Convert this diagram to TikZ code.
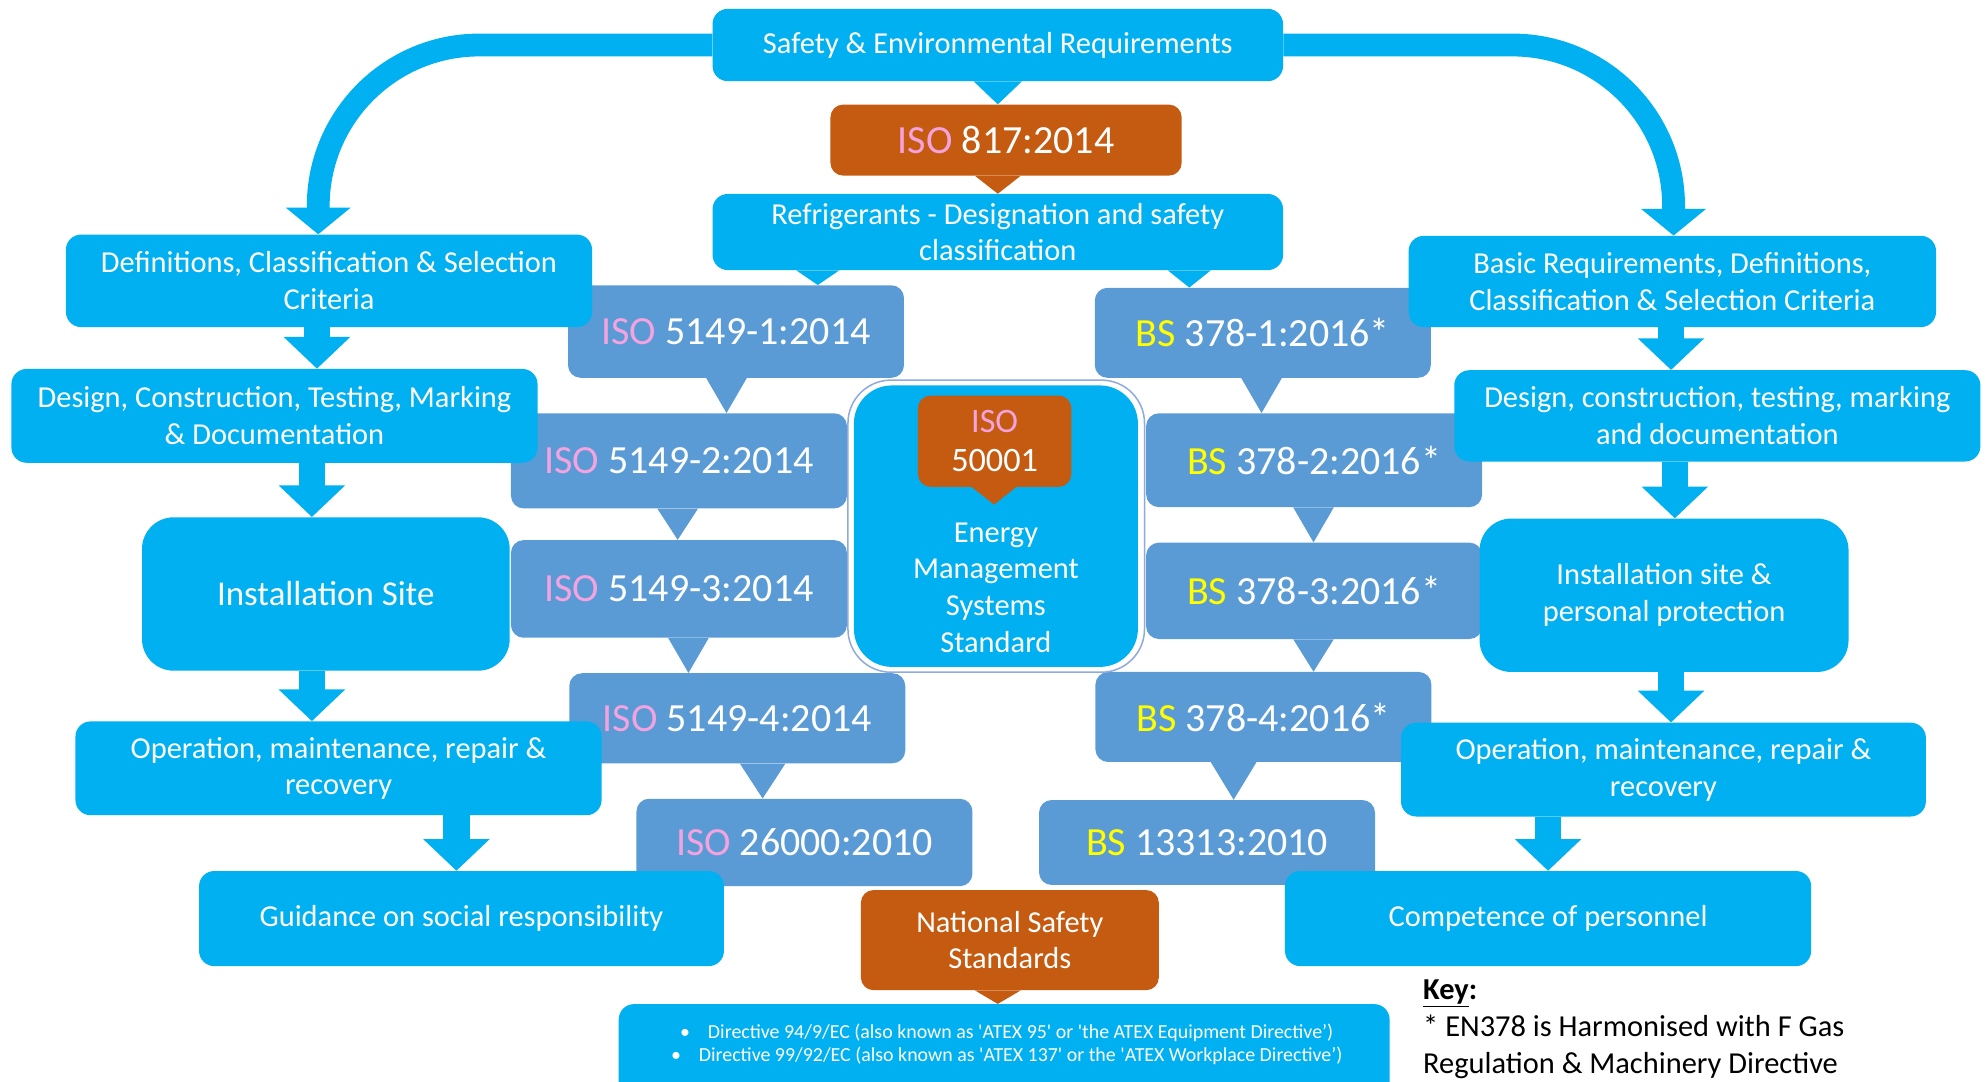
\documentclass[tikz,border=0pt]{standalone}
\usepackage{fontspec}
\setmainfont{Carlito}
\usetikzlibrary{arrows.meta,calc}

\definecolor{skyblue}{HTML}{00B0F0}
\definecolor{steelbox}{HTML}{5B9BD5}
\definecolor{rust}{HTML}{C55A11}
\definecolor{isopink}{HTML}{F5A3DF}
\definecolor{bsyellow}{HTML}{FFFF00}
\definecolor{emsline}{HTML}{8FAADC}

\newcommand{\isotag}{\textcolor{isopink}{ISO}}
\newcommand{\bstag}{\textcolor{bsyellow}{BS}}
% callout tail: colour, half width, from node, x, tip point
\newcommand{\tail}[5]{\fill[#1] ($(#3.south -| #4,0)+(-#2,0)$) -- ($(#3.south -| #4,0)+(#2,0)$) -- (#5 -| #4,0) -- cycle;}

\tikzset{
  cyanbox/.style={fill=skyblue, text=white, rounded corners=12pt, align=center, inner sep=0pt, font=\fontsize{24}{29}\selectfont},
  stdbox/.style={fill=steelbox, text=white, rounded corners=10pt, inner sep=0pt, minimum width=265pt, minimum height=73pt, font=\fontsize{31.5}{36}\selectfont},
  rustbox/.style={fill=rust, text=white, rounded corners=10pt, align=center, inner sep=0pt, font=\fontsize{24}{29}\selectfont},
  flow/.style={skyblue, line width=21pt, -{Triangle[width=51pt,length=25pt]}},
  arcflow/.style={skyblue, line width=18pt, -{Triangle[width=50pt,length=21pt]}}
}

\begin{document}
\begin{tikzpicture}[x=1pt,y=-1pt]
\useasboundingbox (0,0) rectangle (1568,853);

% ISO standards
\node[stdbox] (iso1) at (580.5,261.5) {\isotag{} 5149-1:2014};
\node[stdbox, minimum height=75pt] (iso2) at (535.5,363.5) {\isotag{} 5149-2:2014};
\node[stdbox, minimum height=77pt] (iso3) at (535.5,464.5) {\isotag{} 5149-3:2014};
\node[stdbox, minimum height=71pt] (iso4) at (581.5,566.5) {\isotag{} 5149-4:2014};
\node[stdbox, minimum height=69pt] (iso5) at (634.5,664.5) {\isotag{} 26000:2010};
\tail{steelbox}{16}{iso1}{573}{iso2.north}
\tail{steelbox}{16}{iso2}{534.5}{iso3.north}
\tail{steelbox}{16}{iso3}{543}{iso4.north}
\tail{steelbox}{18}{iso4}{601.5}{iso5.north}

% BS standards
\node[stdbox, minimum height=71pt] (bs1) at (996,262.5) {\bstag{} 378-1:2016*};
\node[stdbox, minimum height=74pt] (bs2) at (1036.5,363) {\bstag{} 378-2:2016*};
\node[stdbox, minimum height=76pt] (bs3) at (1036.5,466) {\bstag{} 378-3:2016*};
\node[stdbox, minimum height=71pt] (bs4) at (996.5,565.5) {\bstag{} 378-4:2016*};
\node[stdbox, minimum height=67pt] (bs5) at (952,664.5) {\bstag{} 13313:2010};
\tail{steelbox}{16}{bs1}{995}{bs2.north}
\tail{steelbox}{16}{bs2}{1036}{bs3.north}
\tail{steelbox}{16}{bs3}{1036}{bs4.north}
\tail{steelbox}{18}{bs4}{973}{bs5.north}

% centre
\node[fill=skyblue, rounded corners=30pt, minimum width=224pt, minimum height=222pt] (ems) at (785.5,415) {};
\draw[emsline, line width=1.2pt, rounded corners=34pt] ($(ems.north west)+(-4.5,-4)$) rectangle ($(ems.south east)+(5,4)$);
\node[rustbox, minimum width=121pt, minimum height=72pt, font=\fontsize{27}{31}\selectfont] (iso50001) at (784.5,348) {\isotag\\50001};
\coordinate (o2tip) at (784,398);
\tail{rust}{17.5}{iso50001}{784}{o2tip}
\node[text=white, align=center, font=\fontsize{24}{29}\selectfont] (emstext) at (785.5,463.5) {Energy\\Management\\Systems\\Standard};

% top
\node[cyanbox, minimum width=450pt, minimum height=57pt] (safety) at (787,35.5) {Safety \& Environmental Requirements};
\node[rustbox, minimum width=277pt, minimum height=56pt, font=\fontsize{31.5}{36}\selectfont] (iso817) at (793.5,110.5) {\isotag{} 817:2014};
\node[cyanbox, minimum width=450pt, minimum height=60pt] (refrig) at (787,183) {Refrigerants - Designation and safety\\classification};
\tail{skyblue}{19}{safety}{787}{iso817.north}
\tail{rust}{18}{iso817}{787}{refrig.north}
\tail{skyblue}{17}{refrig}{645}{iso1.north}
\tail{skyblue}{17}{refrig}{938}{bs1.north}

% left column
\node[cyanbox, minimum width=415pt, minimum height=73pt] (defs) at (259.5,221.5) {Definitions, Classification \& Selection\\Criteria};
\node[cyanbox, minimum width=415pt, minimum height=74pt] (design) at (216.5,328) {Design, Construction, Testing, Marking\\\& Documentation};
\node[cyanbox, rounded corners=25pt, minimum width=290pt, minimum height=121pt, font=\fontsize{27.5}{33}\selectfont] (site) at (257,468.5) {Installation Site};
\node[cyanbox, minimum width=415pt, minimum height=74pt] (operation) at (267,606) {Operation, maintenance, repair \&\\recovery};
\node[cyanbox, minimum width=414pt, minimum height=75pt] (guidance) at (364,724.5) {Guidance on social responsibility};
\draw[arcflow] (safety.west) -- (378,35.5) arc[start angle=270, end angle=180, radius=127] -- (defs.north -| 251,0);
\draw[flow] ([xshift=-9.5pt]defs.south) -- ([xshift=33.5pt]design.north);
\draw[flow] ([xshift=29.5pt]design.south) -- ([xshift=-11pt]site.north);
\draw[flow] ([xshift=-11pt]site.south) -- ([xshift=-21pt]operation.north);
\draw[flow] ([xshift=93pt]operation.south) -- ([xshift=-4pt]guidance.north);

% right column
\node[cyanbox, minimum width=416pt, minimum height=72pt] (basic) at (1319,222) {Basic Requirements, Definitions,\\Classification \& Selection Criteria};
\node[cyanbox, minimum width=415pt, minimum height=72pt] (designr) at (1354.5,328) {Design, construction, testing, marking\\and documentation};
\node[cyanbox, rounded corners=25pt, minimum width=291pt, minimum height=121pt] (siter) at (1312.5,469.5) {Installation site \&\\personal protection};
\node[cyanbox, minimum width=414pt, minimum height=74pt] (operationr) at (1312,607) {Operation, maintenance, repair \&\\recovery};
\node[cyanbox, minimum width=415pt, minimum height=75pt] (competence) at (1221,724.5) {Competence of personnel};
\draw[arcflow] (safety.east) -- (1193,35.5) arc[start angle=270, end angle=360, radius=127] -- (basic.north -| 1320,0);
\draw[flow] ([xshift=-1pt]basic.south) -- ([xshift=-36.5pt]designr.north);
\draw[flow] ([xshift=-33.5pt]designr.south) -- ([xshift=8.5pt]siter.north);
\draw[flow] ([xshift=5.5pt]siter.south) -- ([xshift=6pt]operationr.north);
\draw[flow] ([xshift=-91pt]operationr.south) -- (competence.north);

% bottom
\node[rustbox, minimum width=235pt, minimum height=79pt] (national) at (796.5,741.5) {National Safety\\Standards};
\node[cyanbox, minimum width=608pt, minimum height=84pt] (directives) at (792,834) {};
\tail{rust}{18}{national}{787}{directives.north}
\node[text=white, align=center, font=\fontsize{15.7}{18}\selectfont] (dirtext) at (794,824) {\textbullet\hspace{0.9em}Directive 94/9/EC (also known as \textquotesingle ATEX 95\textquotesingle{} or \textquotesingle the ATEX Equipment Directive’)\\\textbullet\hspace{0.9em}Directive 99/92/EC (also known as \textquotesingle ATEX 137\textquotesingle{} or the \textquotesingle ATEX Workplace Directive’)};
\node[anchor=west, align=left, font=\fontsize{24}{29}\selectfont] (key) at (1119,812) {\textbf{\underline{Key}:}\\* EN378 is Harmonised with F Gas\\Regulation \& Machinery Directive};
\end{tikzpicture}
\end{document}
